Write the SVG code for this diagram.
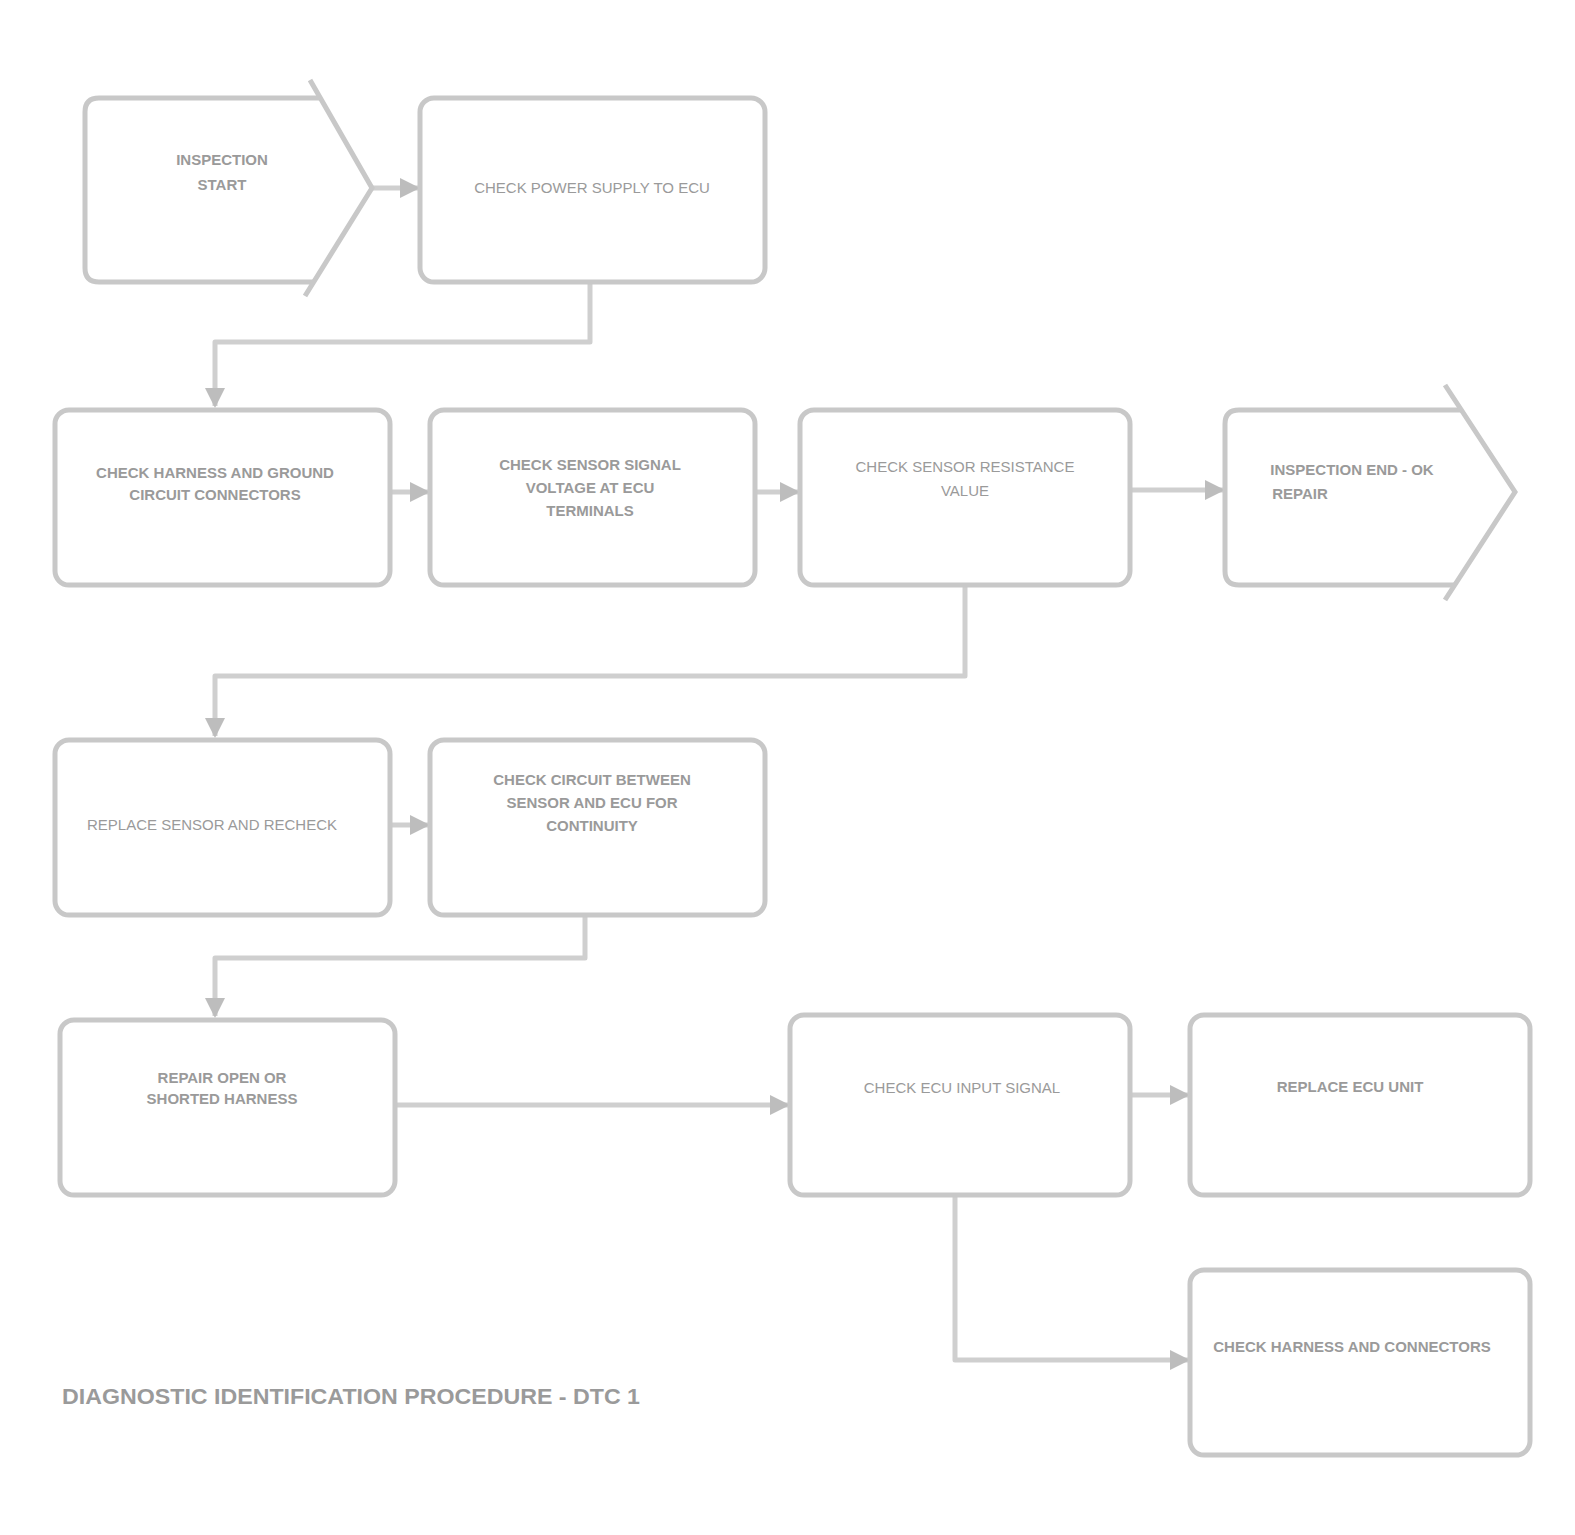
<svg xmlns="http://www.w3.org/2000/svg" width="1575" height="1535" viewBox="0 0 1575 1535">
<style>
.box{fill:none;stroke:#c8c8c8;stroke-width:5}
.ln{fill:none;stroke:#cfcfcf;stroke-width:5;stroke-linejoin:round}
.t{font-family:"Liberation Sans",Arial,sans-serif;font-size:15px;fill:#9a9a9a;text-anchor:middle}
.b{font-weight:bold}
.cap{font-family:"Liberation Sans",Arial,sans-serif;font-size:22px;font-weight:bold;fill:#9a9a9a}
</style>
<defs>
<marker id="ar" viewBox="0 0 10 10" refX="9" refY="5" markerWidth="4" markerHeight="4" orient="auto">
<path d="M0,0 L10,5 L0,10 z" fill="#bdbdbd"/>
</marker>
</defs>
<rect width="1575" height="1535" fill="#ffffff"/>
<g id="connectors">
<path class="ln" d="M372,188 H418" marker-end="url(#ar)"/>
<path class="ln" d="M590,282 V342 H215 V406" marker-end="url(#ar)"/>
<path class="ln" d="M390,492 H428" marker-end="url(#ar)"/>
<path class="ln" d="M755,492 H798" marker-end="url(#ar)"/>
<path class="ln" d="M1130,490 H1223" marker-end="url(#ar)"/>
<path class="ln" d="M965,585 V676 H215 V736" marker-end="url(#ar)"/>
<path class="ln" d="M390,825 H428" marker-end="url(#ar)"/>
<path class="ln" d="M585,915 V958 H215 V1016" marker-end="url(#ar)"/>
<path class="ln" d="M395,1105 H788" marker-end="url(#ar)"/>
<path class="ln" d="M1130,1095 H1188" marker-end="url(#ar)"/>
<path class="ln" d="M955,1195 V1360 H1188" marker-end="url(#ar)"/>
</g>
<g id="nodeA">
<path class="box" d="M320,98 H99 Q85,98 85,112 V268 Q85,282 99,282 H314"/>
<polyline class="box" points="310,80 372,188 305,296"/>
<text class="t b" x="222" y="165">INSPECTION</text>
<text class="t b" x="222" y="190">START</text>
</g>
<g id="nodeB">
<rect class="box" x="420" y="98" width="345" height="184" rx="14"/>
<text class="t" x="592" y="193">CHECK POWER SUPPLY TO ECU</text>
</g>
<g id="nodeC">
<rect class="box" x="55" y="410" width="335" height="175" rx="14"/>
<text class="t b" x="215" y="478">CHECK HARNESS AND GROUND</text>
<text class="t b" x="215" y="500">CIRCUIT CONNECTORS</text>
</g>
<g id="nodeD">
<rect class="box" x="430" y="410" width="325" height="175" rx="14"/>
<text class="t b" x="590" y="470">CHECK SENSOR SIGNAL</text>
<text class="t b" x="590" y="493">VOLTAGE AT ECU</text>
<text class="t b" x="590" y="516">TERMINALS</text>
</g>
<g id="nodeE">
<rect class="box" x="800" y="410" width="330" height="175" rx="14"/>
<text class="t" x="965" y="472">CHECK SENSOR RESISTANCE</text>
<text class="t" x="965" y="496">VALUE</text>
</g>
<g id="nodeF">
<path class="box" d="M1461,410 H1239 Q1225,410 1225,424 V571 Q1225,585 1239,585 H1455"/>
<polyline class="box" points="1445,385 1515,492 1445,600"/>
<text class="t b" x="1352" y="475">INSPECTION END - OK</text>
<text class="t b" x="1300" y="499">REPAIR</text>
</g>
<g id="nodeG">
<rect class="box" x="55" y="740" width="335" height="175" rx="14"/>
<text class="t" x="212" y="830">REPLACE SENSOR AND RECHECK</text>
</g>
<g id="nodeH">
<rect class="box" x="430" y="740" width="335" height="175" rx="14"/>
<text class="t b" x="592" y="785">CHECK CIRCUIT BETWEEN</text>
<text class="t b" x="592" y="808">SENSOR AND ECU FOR</text>
<text class="t b" x="592" y="831">CONTINUITY</text>
</g>
<g id="nodeI">
<rect class="box" x="60" y="1020" width="335" height="175" rx="14"/>
<text class="t b" x="222" y="1083">REPAIR OPEN OR</text>
<text class="t b" x="222" y="1104">SHORTED HARNESS</text>
</g>
<g id="nodeJ">
<rect class="box" x="790" y="1015" width="340" height="180" rx="14"/>
<text class="t" x="962" y="1093">CHECK ECU INPUT SIGNAL</text>
</g>
<g id="nodeK">
<rect class="box" x="1190" y="1015" width="340" height="180" rx="14"/>
<text class="t b" x="1350" y="1092">REPLACE ECU UNIT</text>
</g>
<g id="nodeL">
<rect class="box" x="1190" y="1270" width="340" height="185" rx="14"/>
<text class="t b" x="1352" y="1352">CHECK HARNESS AND CONNECTORS</text>
</g>
<g id="caption">
<text class="cap" x="62" y="1404" textLength="578" lengthAdjust="spacingAndGlyphs">DIAGNOSTIC IDENTIFICATION PROCEDURE - DTC 1</text>
</g>
</svg>
